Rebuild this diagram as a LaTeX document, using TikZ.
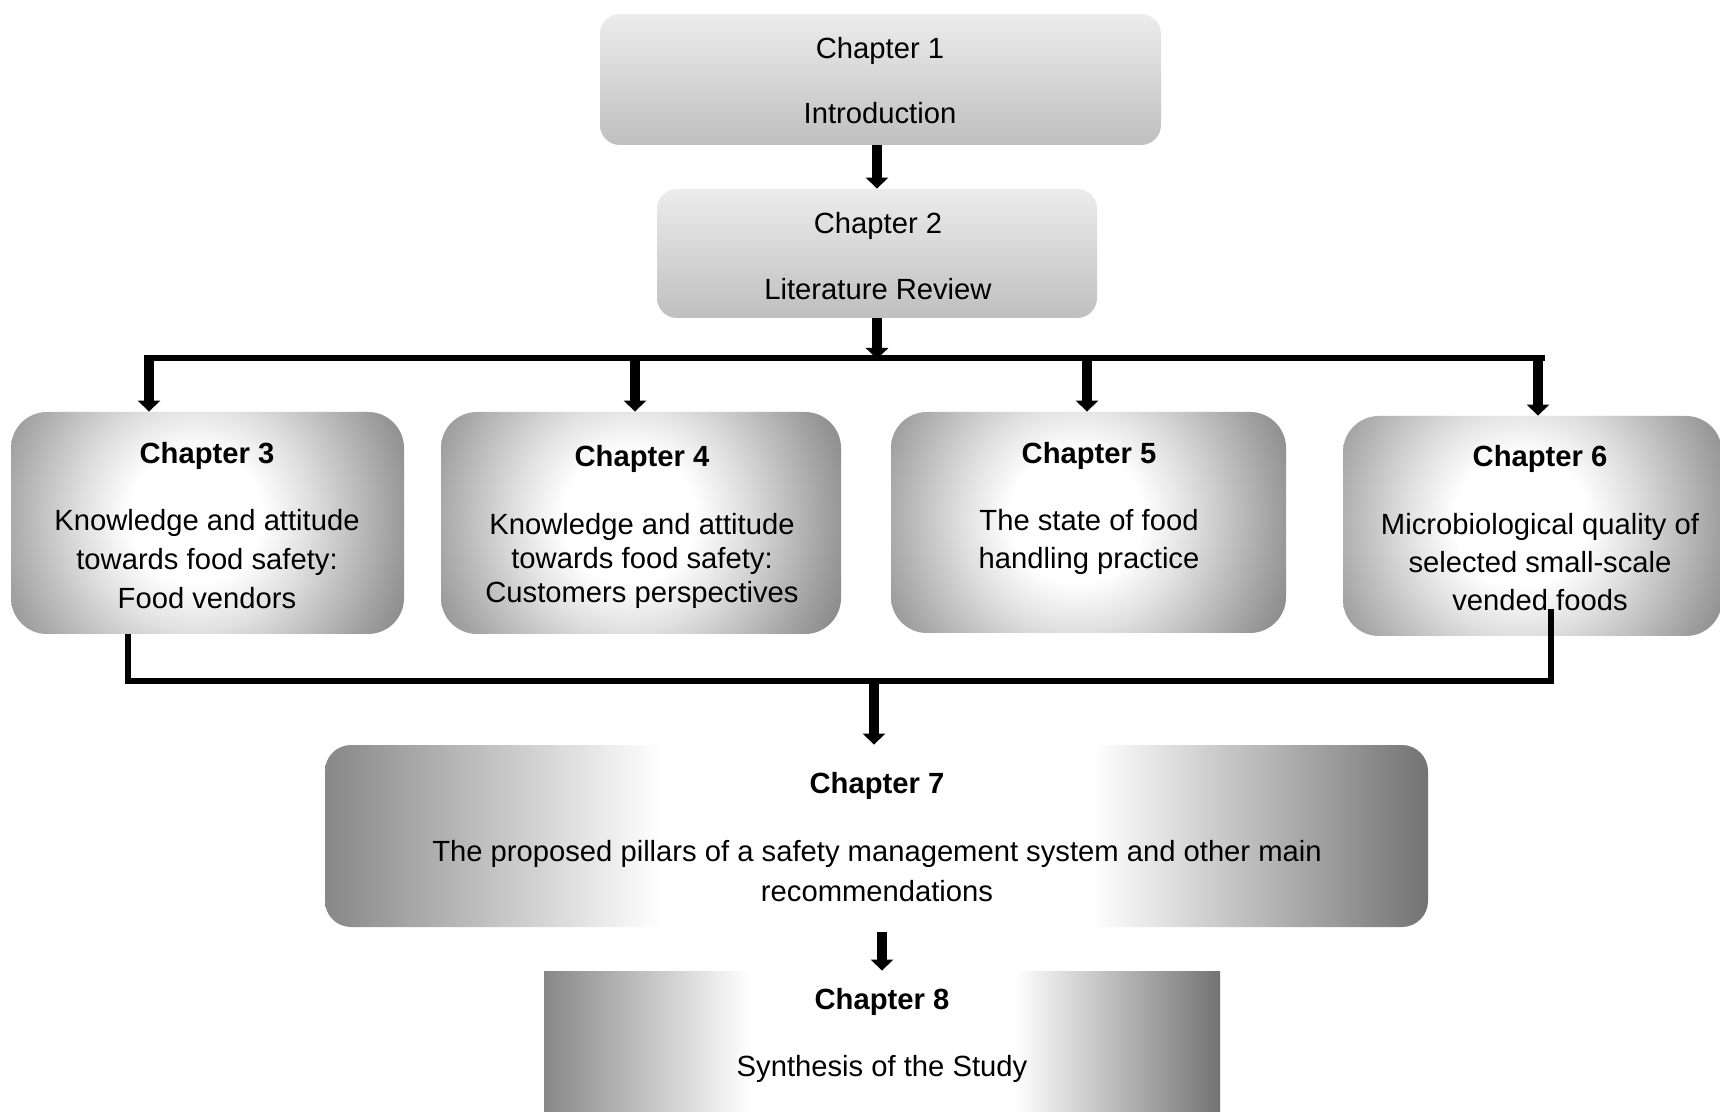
\documentclass[tikz,border=0pt]{standalone}
\usepackage{fontspec}
\setmainfont{Liberation Sans}
\usetikzlibrary{arrows.meta,calc}

% shades of grey used by the boxes
\definecolor{capTop}{rgb}{0.925,0.925,0.925}
\definecolor{capBottom}{rgb}{0.75,0.75,0.75}

% white centre fading to grey towards the rim (the circle drawn spans 0..25bp)
\pgfdeclareradialshading{glow}{\pgfpoint{0bp}{0bp}}{rgb(0bp)=(1,1,1); rgb(7bp)=(1,1,1); rgb(12bp)=(0.88,0.88,0.88); rgb(21bp)=(0.63,0.63,0.63); rgb(25bp)=(0.53,0.53,0.53); rgb(50bp)=(0.53,0.53,0.53)}
% grey sides, white middle band (the box spans 25..75bp)
\pgfdeclarehorizontalshading{sidefade}{100bp}{rgb(0bp)=(0.53,0.53,0.53); rgb(25bp)=(0.53,0.53,0.53); rgb(40.25bp)=(1,1,1); rgb(59.75bp)=(1,1,1); rgb(75bp)=(0.45,0.45,0.45); rgb(100bp)=(0.45,0.45,0.45)}

\begin{document}
\begin{tikzpicture}[x=0.5pt, y=-0.5pt,
  capbox/.style={inner sep=0pt, rounded corners=10pt, top color=capTop, bottom color=capBottom},
  glowbox/.style={inner sep=0pt, rounded corners=18pt,
    path picture={\shade[shading=glow] ($(path picture bounding box.center)+(-12,-6)$) circle (118pt);}},
  fadebox/.style={inner sep=0pt, shade, shading=sidefade},
  txt/.style={align=center, inner sep=0pt, anchor=north, font=\fontsize{14.6pt}{19.5pt}\selectfont},
  link/.style={line width=2.75pt},
  arr/.style={line width=5pt, -{Triangle[width=11pt,length=5.5pt]}}]

\fill[white] (0,0) rectangle (1720,1112);
\path[use as bounding box] (0,0) rectangle (1720,1112);

% chapter boxes
\node[capbox, minimum width=280.5pt, minimum height=65.5pt] (c1) at (880.5,79.5) {};
\node[capbox, minimum width=220pt, minimum height=64.5pt] (c2) at (877,253.5) {};
\node[glowbox, minimum width=196.5pt, minimum height=111pt] (c3) at (207.5,523) {};
\node[glowbox, minimum width=200pt, minimum height=111pt] (c4) at (641,523) {};
\node[glowbox, minimum width=197.5pt, minimum height=110.5pt] (c5) at (1088.5,522.5) {};
\node[glowbox, minimum width=189.5pt, minimum height=110pt] (c6) at (1532.5,526) {};
\node[fadebox, rounded corners=13pt, minimum width=551.5pt, minimum height=91pt] (c7) at (876.5,836) {};
\node[fadebox, minimum width=338pt, minimum height=72pt] (c8) at (882,1043) {};

% branching from chapter 2
\coordinate (hub) at (877,359);
\coordinate (busL) at (144,358);
\coordinate (busR) at (1545,358);
\coordinate (d3) at (149,356);
\coordinate (d4) at (635,356);
\coordinate (d5) at (1087,356);
\coordinate (d6) at (1538,356);

\draw[arr] (c1.south -| c2.north) -- (c2.north);
\draw[arr] (c2.south) -- (hub);
\draw[link] (busL) -- (busR);
\draw[arr] (d3) -- (d3 |- c3.north);
\draw[arr] (d4) -- (d4 |- c4.north);
\draw[arr] (d5) -- (d5 |- c5.north);
\draw[arr] (d6) -- (d6 |- c6.north);

% collecting line towards chapter 7
\coordinate (jL) at (128,681);
\coordinate (jR) at (1551,681);
\coordinate (e6) at (1551,609);
\coordinate (j7) at (874,683);
\draw[link] (c3.south -| jL) -- (jL) -- (jR) -- (e6);
\draw[arr] (j7) -- (j7 |- c7.north);
\draw[arr] ($(c8.north |- c7.south)+(0,5)$) -- (c8.north);

% chapter texts
\node[txt] (t1) at (880,37) {Chapter 1\\[13pt]Introduction};
\node[txt] (t2) at (878,212) {Chapter 2\\[13.5pt]Literature Review};
\node[txt] (t3) at (207,442) {\textbf{Chapter 3}\\[14pt]Knowledge and attitude\\towards food safety:\\Food vendors};
\node[txt, font=\fontsize{14.6pt}{17pt}\selectfont] (t4) at (642,445) {\textbf{Chapter 4}\\[17pt]Knowledge and attitude\\towards food safety:\\Customers perspectives};
\node[txt, font=\fontsize{14.6pt}{19pt}\selectfont] (t5) at (1089,442) {\textbf{Chapter 5}\\[14.5pt]The state of food\\handling practice};
\node[txt, font=\fontsize{14.6pt}{19pt}\selectfont] (t6) at (1540,445) {\textbf{Chapter 6}\\[15pt]Microbiological quality of\\selected small-scale\\vended foods};
\node[txt, font=\fontsize{14.6pt}{20pt}\selectfont] (t7) at (877,772) {\textbf{Chapter 7}\\[14pt]The proposed pillars of a safety management system and other main\\recommendations};
\node[txt] (t8) at (882,988) {\textbf{Chapter 8}\\[14pt]Synthesis of the Study};

\end{tikzpicture}
\end{document}
